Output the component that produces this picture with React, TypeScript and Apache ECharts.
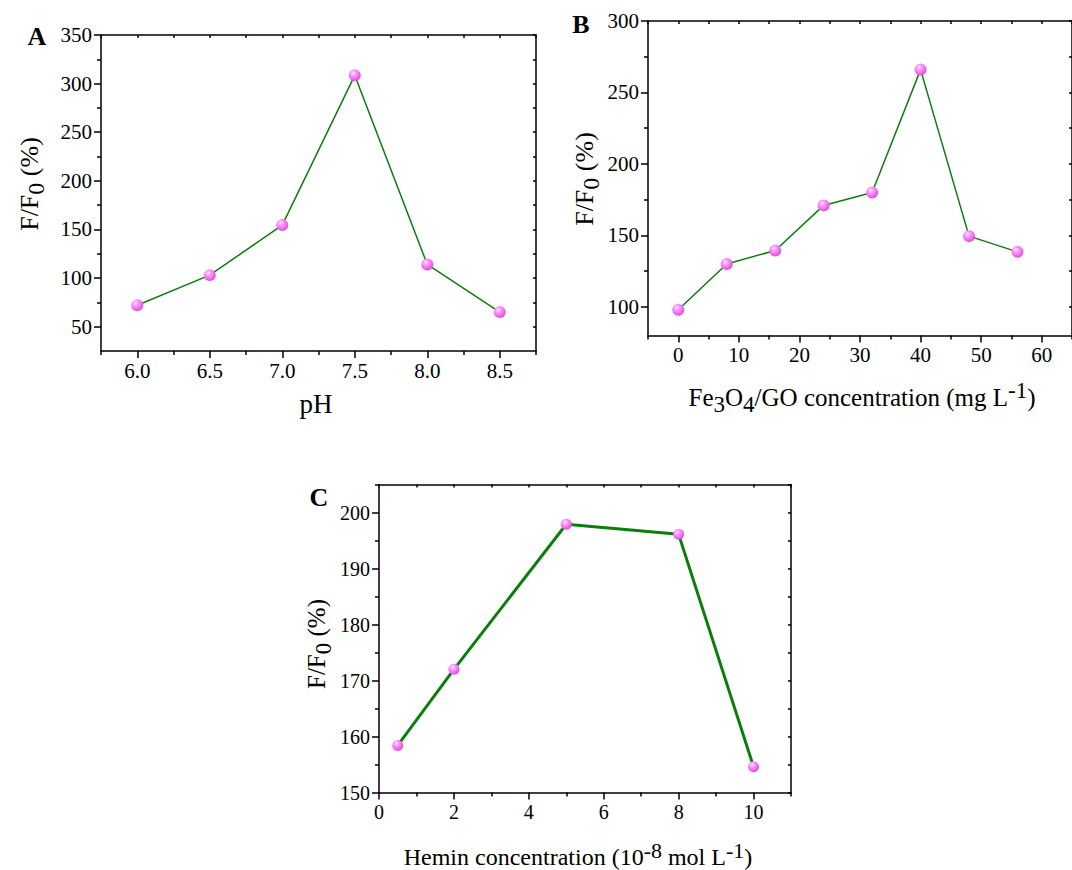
import React, { useEffect, useRef } from 'react';
import * as echarts from 'echarts';

// ---- Data ----
const phValues = [6.0, 6.5, 7.0, 7.5, 8.0, 8.5];
const phRatios = [72, 103, 154.5, 308.5, 114, 65];

const feConc = [0, 8, 16, 24, 32, 40, 48, 56];
const feRatios = [98, 130, 139.5, 171, 180, 266, 149.5, 138.5];

const heminConc = [0.5, 2, 5, 8, 10];
const heminRatios = [158.4, 172, 197.9, 196.1, 154.6];

// ---- Tick values ----
const aXMajor = [6.0, 6.5, 7.0, 7.5, 8.0, 8.5];
const aXMinor = [5.75, 6.25, 6.75, 7.25, 7.75, 8.25, 8.75];
const aYMajor = [50, 100, 150, 200, 250, 300, 350];
const aYMinor = [75, 125, 175, 225, 275, 325];

const bXMajor = [0, 10, 20, 30, 40, 50, 60];
const bXMinor = [-5, 5, 15, 25, 35, 45, 55, 65];
const bYMajor = [100, 150, 200, 250, 300];
const bYMinor = [125, 175, 225, 275];

const cXMajor = [0, 2, 4, 6, 8, 10];
const cXMinor = [1, 3, 5, 7, 9, 11];
const cYMajor = [150, 160, 170, 180, 190, 200];
const cYMinor = [155, 165, 175, 185, 195, 205];

const serif = 'Liberation Serif, serif';

function panelAxes(
  gi: number,
  xMin: number, xMax: number, xMajor: number[], xMinor: number[], xFmt: (v: number) => string,
  yMin: number, yMax: number, yMajor: number[], yMinor: number[],
  fs: number
) {
  const lineStyle = { color: '#000', width: 1.5 };
  const xAxes = [
    {
      gridIndex: gi, type: 'value', position: 'bottom', min: xMin, max: xMax,
      axisLine: { show: true, onZero: false, lineStyle },
      axisTick: { show: true, length: 7, customValues: xMajor, lineStyle },
      axisLabel: {
        show: true, customValues: xMajor, formatter: xFmt, margin: 9,
        fontFamily: serif, fontSize: fs, color: '#000',
      },
      splitLine: { show: false },
    },
    {
      gridIndex: gi, type: 'value', position: 'bottom', min: xMin, max: xMax,
      axisLine: { show: false, onZero: false },
      axisTick: { show: true, length: 4, customValues: xMinor, lineStyle },
      axisLabel: { show: false },
      splitLine: { show: false },
    },
    {
      gridIndex: gi, type: 'value', position: 'top', min: xMin, max: xMax,
      axisLine: { show: true, onZero: false, lineStyle },
      axisTick: { show: true, inside: true, length: 3, customValues: [...xMajor, ...xMinor], lineStyle },
      axisLabel: { show: false },
      splitLine: { show: false },
    },
  ];
  const yAxes = [
    {
      gridIndex: gi, type: 'value', position: 'left', min: yMin, max: yMax,
      axisLine: { show: true, onZero: false, lineStyle },
      axisTick: { show: true, length: 7, customValues: yMajor, lineStyle },
      axisLabel: {
        show: true, customValues: yMajor, margin: 9,
        fontFamily: serif, fontSize: fs, color: '#000',
      },
      splitLine: { show: false },
    },
    {
      gridIndex: gi, type: 'value', position: 'left', min: yMin, max: yMax,
      axisLine: { show: false, onZero: false },
      axisTick: { show: true, length: 4, customValues: yMinor, lineStyle },
      axisLabel: { show: false },
      splitLine: { show: false },
    },
    {
      gridIndex: gi, type: 'value', position: 'right', min: yMin, max: yMax,
      axisLine: { show: true, onZero: false, lineStyle },
      axisTick: { show: true, inside: true, length: 3, customValues: [...yMajor, ...yMinor], lineStyle },
      axisLabel: { show: false },
      splitLine: { show: false },
    },
  ];
  return { xAxes, yAxes };
}

function richFor(fs: number) {
  return {
    n: { fontFamily: serif, fontSize: fs, lineHeight: fs + 12, verticalAlign: 'middle', color: '#000' },
    f: { fontFamily: serif, fontSize: fs - 2, lineHeight: fs + 2, verticalAlign: 'bottom', color: '#000' },
    sub: { fontFamily: serif, fontSize: fs - 2, lineHeight: fs - 2, verticalAlign: 'bottom', color: '#000' },
    sup: { fontFamily: serif, fontSize: fs - 2, lineHeight: fs - 2, verticalAlign: 'top', color: '#000' },
  };
}

function titleText(x: number, y: number, text: string, fs: number, rotate: boolean) {
  return {
    type: 'text',
    x, y,
    rotation: rotate ? Math.PI / 2 : 0,
    style: {
      text,
      rich: richFor(fs),
      fill: '#000',
      align: 'center', verticalAlign: 'middle',
      textAlign: 'center', textVerticalAlign: 'middle',
    },
  };
}

function letter(x: number, y: number, t: string) {
  return {
    type: 'text', x, y,
    style: {
      text: t, fill: '#000',
      fontFamily: serif, fontWeight: 'bold', fontSize: 26,
      align: 'center', verticalAlign: 'middle',
      textAlign: 'center', textVerticalAlign: 'middle',
    },
  };
}

function sphere() {
  return new echarts.graphic.RadialGradient(0.38, 0.32, 0.7, [
    { offset: 0, color: '#ffffff' },
    { offset: 0.22, color: '#ffaaff' },
    { offset: 0.65, color: '#f46ef4' },
    { offset: 1, color: '#d850d8' },
  ]);
}

export default function App() {
  const ref = useRef<HTMLDivElement>(null);
  useEffect(() => {
    if (!ref.current) return;
    const chart = echarts.init(ref.current, undefined, { renderer: 'svg' });

    const pa = panelAxes(0, 5.75, 8.75, aXMajor, aXMinor, (v) => v.toFixed(1), 25, 350, aYMajor, aYMinor, 21);
    const pb = panelAxes(1, -5, 65, bXMajor, bXMinor, (v) => String(v), 80, 300, bYMajor, bYMinor, 21);
    const pc = panelAxes(2, 0, 11, cXMajor, cXMinor, (v) => String(v), 150, 205, cYMajor, cYMinor, 20);

    const mkSeries = (idx: number, xs: number[], ys: number[], width: number, size: number) => ({
      type: 'line',
      xAxisIndex: idx * 3,
      yAxisIndex: idx * 3,
      data: xs.map((x, i) => [x, ys[i]]),
      lineStyle: { color: '#0b7d0b', width },
      symbol: 'circle',
      symbolSize: size,
      showSymbol: true,
      itemStyle: { color: sphere(), borderWidth: 0 },
      z: 3,
    });

    chart.setOption({
      animation: false,
      backgroundColor: '#ffffff',
      textStyle: { fontFamily: serif, color: '#000' },
      grid: [
        { left: 101, top: 35, width: 435, height: 316 },
        { left: 648, top: 21, width: 431, height: 314.5 },
        { left: 379, top: 484.5, width: 412, height: 308 },
      ],
      xAxis: [...pa.xAxes, ...pb.xAxes, ...pc.xAxes],
      yAxis: [...pa.yAxes, ...pb.yAxes, ...pc.yAxes],
      series: [
        mkSeries(0, phValues, phRatios, 1.5, 12),
        mkSeries(1, feConc, feRatios, 1.5, 12),
        mkSeries(2, heminConc, heminRatios, 3, 11),
      ],
      graphic: [
        letter(37, 36, 'A'),
        letter(581, 24, 'B'),
        letter(319, 497, 'C'),
        titleText(29, 184, '{n|F/F}{f|0}{n| (%)}', 26, true),
        titleText(316, 404, '{n|pH}', 27, false),
        titleText(584, 179, '{n|F/F}{f|0}{n| (%)}', 26, true),
        titleText(862, 397, '{n|Fe}{sub|3}{n|O}{sub|4}{n|/GO concentration (mg L}{sup|-1}{n|)}', 25, false),
        titleText(316, 644, '{n|F/F}{f|0}{n| (%)}', 25, true),
        titleText(578, 857, '{n|Hemin concentration (10}{sup|-8}{n| mol L}{sup|-1}{n|)}', 24, false),
      ],
    });

    return () => chart.dispose();
  }, []);

  return (
    <div
      ref={ref}
      style={{ position: 'absolute', left: 0, top: 0, width: 1072, height: 870 }}
    />
  );
}
